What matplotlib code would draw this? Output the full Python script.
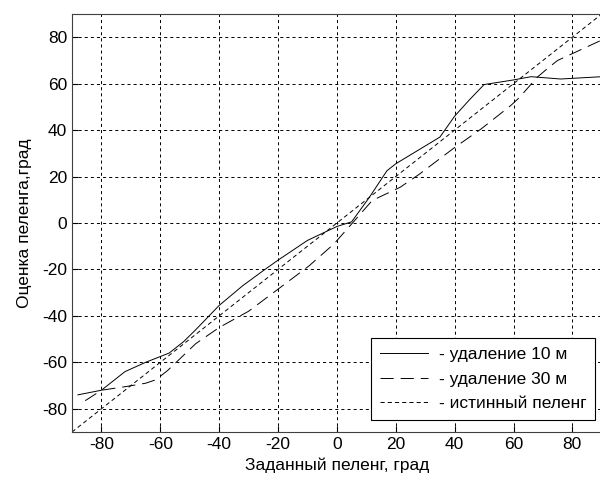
import matplotlib
matplotlib.use("Agg")
import matplotlib.pyplot as plt

plt.rcParams['font.family'] = ['Liberation Sans', 'DejaVu Sans']
plt.rcParams['lines.scale_dashes'] = False
plt.rcParams['axes.unicode_minus'] = False

# удаление 10 м
x10 = [-88, -80, -72, -65, -57, -52, -48, -40, -32, -25, -20, -10, 0, 5, 11, 17, 20, 35, 40, 45, 50, 60, 66, 76, 90]
y10 = [-74, -72, -64, -60, -56, -51, -46, -35.5, -27, -20.5, -16, -7.5, -1.5, 0.5, 11, 22.5, 25.5, 37, 46, 53, 59.6, 61.6, 63, 62, 63]

# удаление 30 м
x30 = [-85.5, -80, -72, -65, -61.5, -60, -57.5, -48, -40, -30, -20, -9.5, -1, 5.5, 12, 21.5, 28, 40, 49, 59, 62, 68, 72, 75, 89.5]
y30 = [-76.5, -72, -70.5, -69, -67.5, -66, -63.5, -52, -45, -38, -28.5, -18.5, -9, 0.3, 9.7, 15.4, 21, 32.5, 40.5, 50.5, 54, 62.7, 67, 70, 78.5]

# истинный пеленг
x_true = [-90, 90]
y_true = [-90, 90]

ticks = [-80, -60, -40, -20, 0, 20, 40, 60, 80]

fig = plt.figure(figsize=(6, 4.82), dpi=100)
ax = fig.add_axes([0.12, 0.1037, 0.883, 0.8673])

ax.plot(x10, y10, color='black', lw=0.7, label='- удаление 10 м')
ax.plot(x30, y30, color='black', lw=0.7, linestyle=(0, (9.5, 5)), label='- удаление 30 м')
ax.plot(x_true, y_true, color='black', lw=0.7, linestyle=(0, (3, 2.2)), label='- истинный пеленг')

ax.set_xlim(-90, 90)
ax.set_ylim(-90, 90)
ax.set_xticks(ticks)
ax.set_yticks(ticks)
ax.grid(True, color='black', lw=0.7, linestyle=(0, (2.2, 2.2)))
ax.tick_params(direction='in', length=4, labelsize=12.5, colors='black')
for s in ax.spines.values():
    s.set_color('#404040')
    s.set_linewidth(0.8)

ax.set_xlabel('Заданный пеленг, град', fontsize=12.5)
ax.set_ylabel('Оценка пеленга,град', fontsize=12.5, labelpad=7)

leg = ax.legend(loc='lower right', bbox_to_anchor=(0.987, 0.0287), fontsize=12.5,
                fancybox=False, edgecolor='black', framealpha=1, handlelength=2.8,
                borderaxespad=0, labelspacing=0.55, borderpad=0.5, handletextpad=0.6)
leg.get_frame().set_linewidth(0.8)

fig.savefig('out.png', dpi=100)
